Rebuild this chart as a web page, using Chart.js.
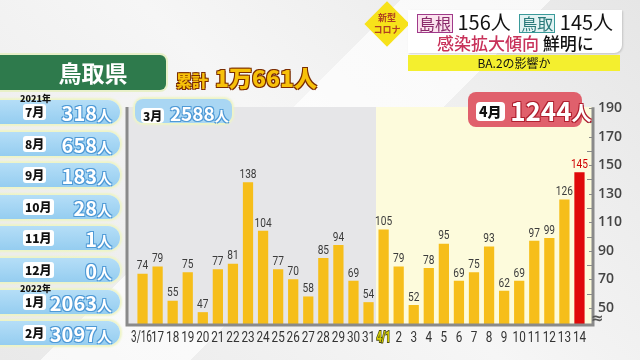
<!DOCTYPE html>
<html>
<head>
<meta charset="utf-8">
<script src="https://cdn.jsdelivr.net/npm/chart.js@4.4.1/dist/chart.umd.min.js"></script>
<style>
  html, body { margin: 0; padding: 0; }
  body {
    width: 640px; height: 360px; overflow: hidden; position: relative;
    font-family: "Noto Sans CJK JP", "Noto Sans", sans-serif;
    background:
      linear-gradient(135deg, rgba(255,255,255,0) 40%, rgba(255,255,255,0.7) 40%, rgba(255,255,255,0.7) 55%, rgba(255,255,255,0) 55%),
      linear-gradient(45deg, #e9e9e9 0%, #f6f6f6 50%, #e6e6e6 100%);
  }
  #chart { position: absolute; left: 0; top: 0; }
  .abs { position: absolute; }
  .title {
    left: 0; top: 55px; width: 166px; height: 35px; background: #2e7a4c;
    border-radius: 0 6px 6px 0; box-shadow: 0 0 0 2px #e8f0c8;
    color: #fff; font-size: 23px; font-weight: 700; line-height: 35px; text-align: center; padding-left: 20px; box-sizing: border-box;
  }
  .total { left: 176px; top: 60px; font-weight: 900; color: #f7c10a; white-space: nowrap;
    text-shadow: -1px -1px 0 #7a2c00, 1px -1px 0 #7a2c00, -1px 1px 0 #7a2c00, 1px 1px 0 #7a2c00; }
  .total .k { font-size: 16px; margin-right: 7px; }
  .total .n { font-size: 23px; }
  .row {
    left: 0; width: 120px; height: 24px; background: linear-gradient(#b5def7, #95cdf0);
    border-radius: 0 12px 12px 0; box-shadow: 0 0 2px 2px #eef4c6;
  }
  .row .m { position: absolute; left: 23px; top: 4px; background: #fff; border-radius: 3px;
    padding: 0 2px; font-size: 12px; font-weight: 900; line-height: 16px; color: #111; }
  .row .v { position: absolute; right: 8px; top: -2px; font-size: 20px; font-weight: 700; color: #fff;
    text-shadow: -1px -1px 0 #4f9ad6, 1px -1px 0 #4f9ad6, -1px 1px 0 #4f9ad6, 1px 1px 0 #4f9ad6; }
  .row .v small { font-size: 15px; }
  .year { left: 20px; font-size: 9px; font-weight: 900; color: #111; }
  .badge { border-radius: 8px; white-space: nowrap; }
  .badge .m { display: inline-block; background: #fff; border-radius: 4px; color: #111; font-weight: 900; vertical-align: middle; }
  .badge .v { display: inline-block; color: #fff; font-weight: 700; vertical-align: middle; }
  .diamond { left: 371px; top: 8px; width: 32px; height: 32px; background: #f7e21a; transform: rotate(45deg); }
  .corona { left: 370px; top: 12px; width: 34px; text-align: center; font-size: 9px; line-height: 12px; color: #b04020; font-weight: 700; }
  .head { left: 408px; top: 10px; width: 214px; height: 43px; background: #fff; border-radius: 0 0 8px 0; box-shadow: 1px 1px 2px rgba(0,0,0,0.15); }
  .tag { display: inline-block; border: 1.5px solid; padding: 0 1px; line-height: 17px; font-size: 16px; }
  .sub { left: 408px; top: 55px; width: 212px; height: 16px; background: #f4ef2e; text-align: center; font-size: 12px; line-height: 16px; color: #111; }
</style>
</head>
<body>
<canvas id="chart" width="640" height="360"></canvas>

<div class="abs title">鳥取県</div>
<div class="abs total"><span class="k">累計</span><span class="n">1万661人</span></div>
<div id="rows"></div>

<div class="abs badge" style="left:135px;top:99px;width:97px;height:24px;background:#a9d6f3;box-shadow:0 0 2px 2px #eef4c6;">
  <span class="m" style="margin:4px 0 0 6px;font-size:12px;line-height:15px;padding:0 2px;">3月</span>
  <span class="v" style="font-size:19px;line-height:24px;margin-left:2px;text-shadow:-1px -1px 0 #4f9ad6,1px -1px 0 #4f9ad6,-1px 1px 0 #4f9ad6,1px 1px 0 #4f9ad6;">2588<small style="font-size:14px">人</small></span>
</div>
<div class="abs badge" style="left:468px;top:92px;width:114px;height:35px;background:#e0606c;">
  <span class="m" style="margin:0 0 0 8px;font-size:14px;line-height:19px;padding:0 3px;">4月</span>
  <span class="v" style="font-size:26px;line-height:35px;margin-left:2px;text-shadow:-1px -1px 0 #b02030,1px -1px 0 #b02030,-1px 1px 0 #b02030,1px 1px 0 #b02030;">1244<small style="font-size:20px">人</small></span>
</div>

<div class="abs diamond"></div>
<div class="abs corona">新型<br>コロナ</div>
<div class="abs head">
  <div style="position:absolute;left:9px;top:1px;font-size:20px;line-height:22px;color:#111;white-space:nowrap;">
    <span class="tag" style="border-color:#a03a8a;background:#fbe3ee;color:#8a2a6a;">島根</span> 156人
    <span class="tag" style="border-color:#3a9a9a;background:#e3f3f3;color:#2a7a7a;margin-left:4px;">鳥取</span> 145人
  </div>
  <div style="position:absolute;left:29px;top:23px;font-size:17px;line-height:20px;font-weight:500;white-space:nowrap;">
    <span style="color:#c8325a;">感染拡大傾向</span> <span style="color:#111;">鮮明に</span>
  </div>
</div>
<div class="abs sub">BA.2の影響か</div>

<script>
// daily new cases, Tottori, 3/16 - 4/14
var days = ['3/16', '17', '18', '19', '20', '21', '22', '23', '24', '25', '26', '27', '28', '29', '30', '31',
            '4/1', '2', '3', '4', '5', '6', '7', '8', '9', '10', '11', '12', '13', '14'];
var cases = [74, 79, 55, 75, 47, 77, 81, 138, 104, 77, 70, 58, 85, 94, 69, 54,
             105, 79, 52, 78, 95, 69, 75, 93, 62, 69, 97, 99, 126, 145];
var yTicks = [50, 70, 90, 110, 130, 150, 170, 190];
var marchDays = 16;

// monthly totals in the left column
var months = ['7月', '8月', '9月', '10月', '11月', '12月', '1月', '2月'];
var monthTotals = [318, 658, 183, 28, 1, 0, 2063, 3097];

var rowsEl = document.getElementById('rows');
months.forEach(function (m, i) {
    var top = 100 + i * 31.6;
    var div = document.createElement('div');
    div.className = 'abs row';
    div.style.top = top + 'px';
    div.innerHTML = '<span class="m">' + m + '</span><span class="v">' + monthTotals[i] + '<small>人</small></span>';
    rowsEl.appendChild(div);
});
[['2021年', 92], ['2022年', 282]].forEach(function (y) {
    var d = document.createElement('div');
    d.className = 'abs year';
    d.style.top = y[1] + 'px';
    d.textContent = y[0];
    rowsEl.appendChild(d);
});

var barColors = cases.map(function (v, i) { return i === cases.length - 1 ? '#e00a0a' : '#f6be1a'; });

// narrow text: draw squeezed horizontally
function narrowText(ctx, text, x, y, sx) {
    ctx.save();
    ctx.translate(x, y);
    ctx.scale(sx, 1);
    ctx.fillText(text, 0, 0);
    ctx.restore();
}

var panels = {
    id: 'panels',
    beforeDraw: function (chart) {
        var ctx = chart.ctx, meta = chart.getDatasetMeta(0);
        var area = chart.chartArea;
        var split = (meta.data[marchDays - 1].x + meta.data[marchDays].x) / 2;
        var left = 127, right = 593, top = 107, bottom = area.bottom;
        ctx.save();
        ctx.fillStyle = '#e6e6e8';
        ctx.fillRect(left, top, split - left, bottom - top);
        ctx.fillStyle = '#fdfbdc';
        ctx.fillRect(split, top, right - split, bottom - top);
        ctx.restore();
    },
    afterDatasetsDraw: function (chart) {
        var ctx = chart.ctx, meta = chart.getDatasetMeta(0);
        var area = chart.chartArea, y = chart.scales.y, x = chart.scales.x;
        ctx.save();
        // value labels
        ctx.font = '13px "Roboto", sans-serif';
        ctx.textAlign = 'center';
        ctx.textBaseline = 'bottom';
        meta.data.forEach(function (bar, i) {
            ctx.fillStyle = i === cases.length - 1 ? '#d00000' : '#3c3c3c';
            narrowText(ctx, cases[i], bar.x, bar.y - 1, 0.78);
        });
        // day labels under the axis
        ctx.textBaseline = 'middle';
        days.forEach(function (d, i) {
            var px = x.getPixelForTick(i);
            if (i === 0) {
                ctx.font = '16px "Roboto", sans-serif';
                ctx.fillStyle = '#333';
                narrowText(ctx, d, px - 1, area.bottom + 13, 0.62);
            } else if (i === marchDays) {
                ctx.font = 'bold 15px "Roboto", sans-serif';
                ctx.lineWidth = 2;
                ctx.strokeStyle = '#4a4a10';
                ctx.fillStyle = '#d8d000';
                ctx.save();
                ctx.translate(px, area.bottom + 13);
                ctx.scale(0.62, 1);
                ctx.strokeText(d, 0, 0);
                ctx.fillText(d, 0, 0);
                ctx.restore();
            } else {
                ctx.font = '15px "Roboto", sans-serif';
                ctx.fillStyle = '#333';
                narrowText(ctx, d, px, area.bottom + 13, 0.78);
            }
        });
        // axis lines
        ctx.strokeStyle = '#8a8a8a';
        ctx.lineWidth = 3;
        ctx.beginPath();
        ctx.moveTo(127, 107);
        ctx.lineTo(127, area.bottom);
        ctx.lineTo(593, area.bottom);
        ctx.lineTo(593, y.getPixelForValue(190) - 1);
        ctx.stroke();
        // minor ticks on right axis
        ctx.lineWidth = 1;
        for (var v = 50; v <= 190; v += 10) {
            var py = Math.round(y.getPixelForValue(v)) + 0.5;
            ctx.beginPath();
            ctx.moveTo(v % 20 === 10 ? 589 : 587, py);
            ctx.lineTo(592, py);
            ctx.stroke();
        }
        // broken axis mark
        ctx.fillStyle = '#555';
        ctx.font = 'bold 15px "DejaVu Sans", sans-serif';
        ctx.textAlign = 'left';
        ctx.textBaseline = 'middle';
        ctx.fillText('≈', 591, area.bottom - 6);
        ctx.restore();
    }
};

new Chart(document.getElementById('chart'), {
    type: 'bar',
    data: {
        labels: days,
        datasets: [{ data: cases, backgroundColor: barColors, barPercentage: 0.68, categoryPercentage: 1 }]
    },
    options: {
        responsive: false,
        animation: false,
        devicePixelRatio: 1,
        layout: { padding: { left: 135, right: 0, top: 101, bottom: 0 } },
        plugins: { legend: { display: false }, tooltip: { enabled: false } },
        scales: {
            x: {
                grid: { display: false, drawTicks: false },
                border: { display: false },
                afterFit: function (s) { s.height = 35; },
                ticks: { display: false, autoSkip: false }
            },
            y: {
                position: 'right',
                min: 38,
                max: 195,
                afterBuildTicks: function (s) { s.ticks = yTicks.map(function (v) { return { value: v }; }); },
                afterFit: function (s) { s.width = 53; },
                grid: { display: false, drawTicks: false },
                border: { display: false },
                ticks: { padding: 11, color: '#444', font: { family: '"Open Sans", sans-serif', size: 14, weight: '600' } }
            }
        }
    },
    plugins: [panels]
});
</script>
</body>
</html>
